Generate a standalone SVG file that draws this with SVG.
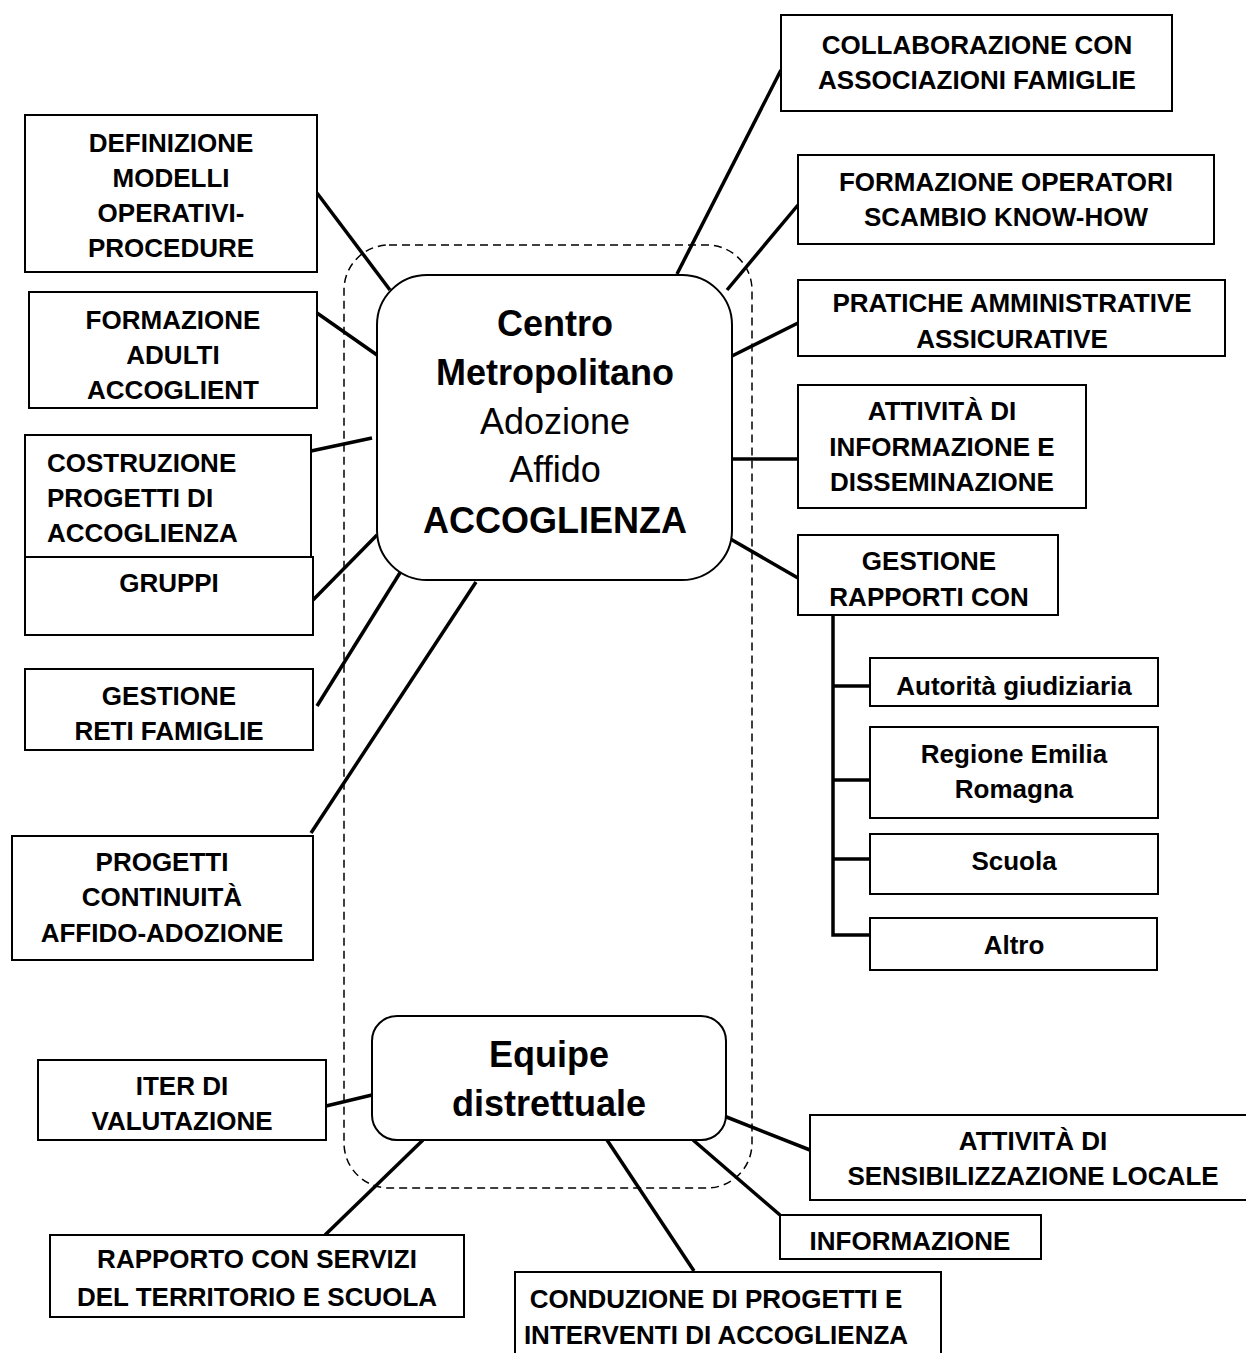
<svg xmlns="http://www.w3.org/2000/svg" width="1246" height="1353" viewBox="0 0 1246 1353">
<style>
.bx{fill:#fff;stroke:#000;stroke-width:2}
.t{font-family:"Liberation Sans",Arial,sans-serif;font-weight:bold;font-size:26px;text-anchor:middle;fill:#000}
.tl{text-anchor:start}
.big{font-size:36px}
.light{font-weight:normal}
.c{stroke:#000;stroke-width:3.5;fill:none}
</style>
<rect x="0" y="0" width="1246" height="1353" fill="#fff"/>
<rect id="boundary" x="344" y="245" width="408" height="943" rx="45" fill="none" stroke="#000" stroke-width="1.5" stroke-dasharray="8 5"/>
<g id="connectors">
<line class="c" x1="317" y1="193" x2="390" y2="290"/>
<line class="c" x1="317" y1="313" x2="377" y2="355"/>
<line class="c" x1="311" y1="451" x2="372" y2="438"/>
<line class="c" x1="313" y1="600" x2="377" y2="535"/>
<line class="c" x1="317" y1="706" x2="403" y2="568"/>
<line class="c" x1="311" y1="833" x2="476" y2="582"/>
<line class="c" x1="781" y1="70" x2="677" y2="274" stroke-width="5.5"/>
<line class="c" x1="798" y1="205" x2="727" y2="290"/>
<line class="c" x1="798" y1="323" x2="732" y2="356"/>
<line class="c" x1="732" y1="459" x2="798" y2="459"/>
<line class="c" x1="727" y1="537" x2="798" y2="578"/>
<polyline class="c" points="833,615 833,935 870,935"/>
<line class="c" x1="833" y1="686" x2="870" y2="686"/>
<line class="c" x1="833" y1="780" x2="870" y2="780"/>
<line class="c" x1="833" y1="859" x2="870" y2="859"/>
<line class="c" x1="326" y1="1106" x2="372" y2="1095"/>
<line class="c" x1="325" y1="1235" x2="423" y2="1140"/>
<line class="c" x1="607" y1="1140" x2="694" y2="1271"/>
<line class="c" x1="693" y1="1140" x2="780" y2="1215"/>
<line class="c" x1="724" y1="1116" x2="810" y2="1150"/>
</g>
<g id="centro">
<rect class="bx" x="377" y="275" width="355" height="305" rx="50"/>
<text class="t big" x="555" y="336">Centro</text>
<text class="t big" x="555" y="385">Metropolitano</text>
<text class="t big light" x="555" y="434">Adozione</text>
<text class="t big light" x="555" y="482">Affido</text>
<text class="t big" x="555" y="533">ACCOGLIENZA</text>
</g>
<g id="equipe">
<rect class="bx" x="372" y="1016" width="354" height="124" rx="25"/>
<text class="t big" x="549" y="1067">Equipe</text>
<text class="t big" x="549" y="1116">distrettuale</text>
</g>
<g id="collaborazione">
<rect class="bx" x="781" y="15" width="391" height="96"/>
<text class="t" x="977" y="54">COLLABORAZIONE CON</text>
<text class="t" x="977" y="89">ASSOCIAZIONI FAMIGLIE</text>
</g>
<g id="formazione-operatori">
<rect class="bx" x="798" y="155" width="416" height="89"/>
<text class="t" x="1006" y="191">FORMAZIONE OPERATORI</text>
<text class="t" x="1006" y="226">SCAMBIO KNOW-HOW</text>
</g>
<g id="pratiche">
<rect class="bx" x="798" y="280" width="427" height="76"/>
<text class="t" x="1012" y="312">PRATICHE AMMINISTRATIVE</text>
<text class="t" x="1012" y="348">ASSICURATIVE</text>
</g>
<g id="informazione-disseminazione">
<rect class="bx" x="798" y="385" width="288" height="123"/>
<text class="t" x="942" y="420">ATTIVITÀ DI</text>
<text class="t" x="942" y="456">INFORMAZIONE E</text>
<text class="t" x="942" y="491">DISSEMINAZIONE</text>
</g>
<g id="gestione-rapporti">
<rect class="bx" x="798" y="535" width="260" height="80"/>
<text class="t" x="929" y="570">GESTIONE</text>
<text class="t" x="929" y="606">RAPPORTI CON</text>
</g>
<g id="autorita">
<rect class="bx" x="870" y="658" width="288" height="48"/>
<text class="t" x="1014" y="695">Autorità giudiziaria</text>
</g>
<g id="regione">
<rect class="bx" x="870" y="727" width="288" height="91"/>
<text class="t" x="1014" y="763">Regione Emilia</text>
<text class="t" x="1014" y="798">Romagna</text>
</g>
<g id="scuola">
<rect class="bx" x="870" y="834" width="288" height="60"/>
<text class="t" x="1014" y="870">Scuola</text>
</g>
<g id="altro">
<rect class="bx" x="870" y="918" width="287" height="52"/>
<text class="t" x="1014" y="954">Altro</text>
</g>
<g id="definizione">
<rect class="bx" x="25" y="115" width="292" height="157"/>
<text class="t" x="171" y="152">DEFINIZIONE</text>
<text class="t" x="171" y="187">MODELLI</text>
<text class="t" x="171" y="222">OPERATIVI-</text>
<text class="t" x="171" y="257">PROCEDURE</text>
</g>
<g id="formazione-adulti">
<rect class="bx" x="29" y="292" width="288" height="116"/>
<text class="t" x="173" y="329">FORMAZIONE</text>
<text class="t" x="173" y="364">ADULTI</text>
<text class="t" x="173" y="399">ACCOGLIENT</text>
</g>
<g id="costruzione">
<rect class="bx" x="25" y="435" width="286" height="122"/>
<text class="t tl" x="47" y="472">COSTRUZIONE</text>
<text class="t tl" x="47" y="507">PROGETTI DI</text>
<text class="t tl" x="47" y="542">ACCOGLIENZA</text>
</g>
<g id="gruppi">
<rect class="bx" x="25" y="557" width="288" height="78"/>
<text class="t" x="169" y="592">GRUPPI</text>
</g>
<g id="reti-famiglie">
<rect class="bx" x="25" y="669" width="288" height="81"/>
<text class="t" x="169" y="705">GESTIONE</text>
<text class="t" x="169" y="740">RETI FAMIGLIE</text>
</g>
<g id="continuita">
<rect class="bx" x="12" y="836" width="301" height="124"/>
<text class="t" x="162" y="871">PROGETTI</text>
<text class="t" x="162" y="906">CONTINUITÀ</text>
<text class="t" x="162" y="942">AFFIDO-ADOZIONE</text>
</g>
<g id="iter">
<rect class="bx" x="38" y="1060" width="288" height="80"/>
<text class="t" x="182" y="1095">ITER DI</text>
<text class="t" x="182" y="1130">VALUTAZIONE</text>
</g>
<g id="rapporto-servizi">
<rect class="bx" x="50" y="1235" width="414" height="82"/>
<text class="t" x="257" y="1268">RAPPORTO CON SERVIZI</text>
<text class="t" x="257" y="1306">DEL TERRITORIO E SCUOLA</text>
</g>
<g id="conduzione">
<rect class="bx" x="515" y="1272" width="426" height="90"/>
<text class="t" x="716" y="1308">CONDUZIONE DI PROGETTI E</text>
<text class="t" x="716" y="1344">INTERVENTI DI ACCOGLIENZA</text>
</g>
<g id="informazione">
<rect class="bx" x="780" y="1215" width="261" height="44"/>
<text class="t" x="910" y="1250">INFORMAZIONE</text>
</g>
<g id="sensibilizzazione">
<rect class="bx" x="810" y="1115" width="440" height="85"/>
<text class="t" x="1033" y="1150">ATTIVITÀ DI</text>
<text class="t" x="1033" y="1185">SENSIBILIZZAZIONE LOCALE</text>
</g>
</svg>
